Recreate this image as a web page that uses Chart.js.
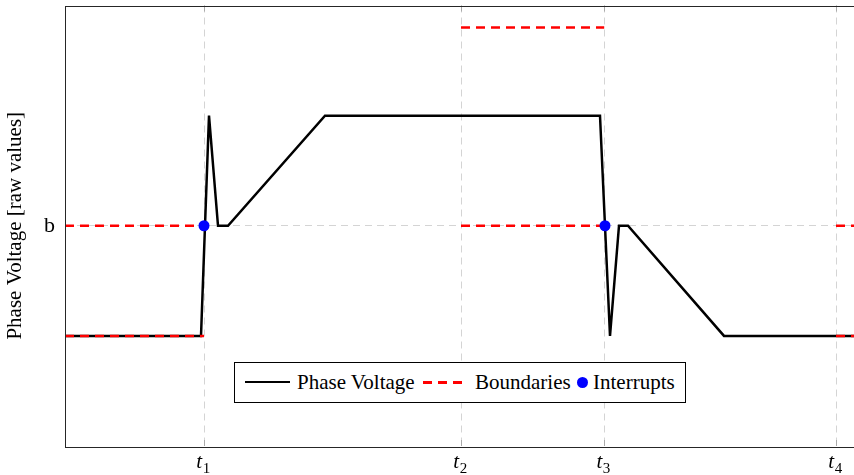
<!DOCTYPE html>
<html>
<head>
<meta charset="utf-8">
<script src="https://cdn.jsdelivr.net/npm/chart.js@4.4.0/dist/chart.umd.min.js"></script>
<style>
  html, body { margin: 0; padding: 0; background: #fff; overflow: hidden; width: 854px; height: 475px; }
  #wrap { position: relative; width: 880px; height: 475px; }
  #legend { position: absolute; left: 234px; top: 362px; width: 452px; height: 41px; box-sizing: border-box;
            border: 1px solid #000; background: #fff; font-family: 'Liberation Serif', serif; font-size: 21px; }
  #legend .txt { position: absolute; top: 50%; transform: translateY(-52%); white-space: nowrap; color: #000; }
  #legend .sym { position: absolute; }
</style>
</head>
<body>
<div id="wrap">
  <canvas id="c" width="880" height="475"></canvas>
  <div id="legend"></div>
</div>
<script>
// ---- data (x in time units, y in level units; b = 0) ----
const phaseX = [0, 17.0, 18.0, 19.125, 20.375, 32.5, 66.875, 68.125, 69.25, 70.375, 82.375, 100];
const phaseY = [-1, -1, 1, 0, 0, 1, 1, -1, 0, 0, -1, -1];

const boundStart = [0, 0, 49.5, 49.5, 96.375, 96.375];
const boundEnd   = [17.375, 17.375, 67.4, 67.4, 100, 100];
const boundLevel = [-1, 0, 0, 1.8, 0, -1];

const interruptX = [17.375, 67.5];
const interruptY = [0, 0];

const xTickValues = [17.375, 49.5, 67.4, 96.375];
const xTickBase = ['t', 't', 't', 't'];
const xTickSub  = ['1', '2', '3', '4'];
const yTickValues = [0];
const yTickLabels = ['b'];

const seriesNames = ['Phase Voltage', 'Boundaries', 'Interrupts'];

// ---- build datasets ----
const phaseData = phaseX.map((x, i) => ({x: x, y: phaseY[i]}));
const boundData = [];
boundStart.forEach((s, i) => {
  boundData.push({x: s, y: boundLevel[i]});
  boundData.push({x: boundEnd[i], y: boundLevel[i]});
  boundData.push({x: boundEnd[i], y: null});
});
const intData = interruptX.map((x, i) => ({x: x, y: interruptY[i]}));

const SERIF = "'Liberation Serif', 'Times New Roman', serif";

const framePlugin = {
  id: 'frame',
  beforeDatasetsDraw(chart) {
    const {ctx, chartArea: a, scales} = chart;
    ctx.save();
    ctx.strokeStyle = '#aaaaaa';
    ctx.lineWidth = 1;
    ctx.setLineDash([]);
    scales.x.ticks.forEach(t => {
      const px = Math.round(scales.x.getPixelForValue(t.value)) + 0.5;
      ctx.beginPath();
      ctx.moveTo(px, a.bottom); ctx.lineTo(px, a.bottom - 6);
      ctx.moveTo(px, a.top); ctx.lineTo(px, a.top + 6);
      ctx.stroke();
    });
    scales.y.ticks.forEach(t => {
      const py = Math.round(scales.y.getPixelForValue(t.value)) + 0.5;
      ctx.beginPath();
      ctx.moveTo(a.left, py); ctx.lineTo(a.left + 6, py);
      ctx.stroke();
    });
    ctx.restore();
  },
  afterDraw(chart) {
    const {ctx, chartArea: a, scales} = chart;
    ctx.save();
    ctx.strokeStyle = '#262626';
    ctx.lineWidth = 1;
    ctx.setLineDash([]);
    ctx.strokeRect(Math.round(a.left) + 0.5, Math.round(a.top) + 0.5,
                   Math.round(a.right - a.left), Math.round(a.bottom - a.top));
    // x tick labels: italic t with upright subscript
    ctx.fillStyle = '#000';
    ctx.textBaseline = 'alphabetic';
    ctx.textAlign = 'left';
    scales.x.ticks.forEach((t, i) => {
      const px = scales.x.getPixelForValue(t.value);
      ctx.font = 'italic 21px ' + SERIF;
      const w1 = ctx.measureText(xTickBase[i]).width;
      ctx.font = '15px ' + SERIF;
      const w2 = ctx.measureText(xTickSub[i]).width;
      const x0 = px - (w1 + w2) / 2 - 1;
      ctx.font = 'italic 21px ' + SERIF;
      ctx.fillText(xTickBase[i], x0, 468);
      ctx.font = '15px ' + SERIF;
      ctx.fillText(xTickSub[i], x0 + w1 + 0.5, 473);
    });
    ctx.restore();
  }
};

const chart = new Chart(document.getElementById('c'), {
  type: 'line',
  data: {
    datasets: [
      { label: seriesNames[2], data: intData, showLine: false, pointRadius: 5.5, pointHoverRadius: 5.5,
        pointBackgroundColor: '#0000ff', pointBorderWidth: 0, borderColor: '#0000ff', order: 1 },
      { label: seriesNames[1], data: boundData, borderColor: '#ff0000', borderWidth: 2.5, borderDash: [9, 6],
        pointRadius: 0, spanGaps: false, fill: false, tension: 0, order: 2 },
      { label: seriesNames[0], data: phaseData, borderColor: '#000000', borderWidth: 2.5,
        pointRadius: 0, fill: false, tension: 0, order: 3, borderJoinStyle: 'miter' }
    ]
  },
  options: {
    responsive: false,
    animation: false,
    events: [],
    layout: { padding: { left: 0, top: 5, right: 15, bottom: 0 } },
    plugins: { legend: { display: false }, tooltip: { enabled: false } },
    scales: {
      x: {
        type: 'linear', min: 0, max: 100,
        afterBuildTicks: s => { s.ticks = xTickValues.map(v => ({value: v})); },
        afterFit: s => { s.height = 29; s.paddingLeft = 0; s.paddingRight = 0; },
        ticks: { display: false, autoSkip: false },
        grid: { color: '#d4d4d4', lineWidth: 1, drawTicks: false },
        border: { display: false, dash: [7, 5] }
      },
      y: {
        type: 'linear', min: -2, max: 2,
        afterBuildTicks: s => { s.ticks = yTickValues.map(v => ({value: v})); },
        afterFit: s => { s.width = 65; s.paddingTop = 0; s.paddingBottom = 0; },
        ticks: {
          callback: (v, i) => yTickLabels[i],
          font: { family: SERIF, size: 22 },
          color: '#000', padding: 10
        },
        title: {
          display: true, text: 'Phase Voltage [raw values]',
          font: { family: SERIF, size: 21 }, color: '#000', padding: { top: 3, bottom: 0 }
        },
        grid: { color: '#d4d4d4', lineWidth: 1, drawTicks: false },
        border: { display: false, dash: [7, 5] }
      }
    }
  },
  plugins: [framePlugin]
});

// ---- HTML legend (inside the plot area, as in the reference) ----
const lg = document.getElementById('legend');
const ds = chart.data.datasets;
const byName = n => ds.find(d => d.label === n);
function add(html) { lg.insertAdjacentHTML('beforeend', html); }
add('<div class="sym" style="left:10px;top:18px;width:45px;height:0;border-top:2.5px solid ' + byName(seriesNames[0]).borderColor + '"></div>');
add('<div class="txt" style="left:62px">' + seriesNames[0] + '</div>');
add('<div class="sym" style="left:188px;top:18px;width:42px;height:2.5px;background:repeating-linear-gradient(90deg,' +
    byName(seriesNames[1]).borderColor + ' 0 9px, transparent 9px 15px)"></div>');
add('<div class="txt" style="left:240px">' + seriesNames[1] + '</div>');
add('<div class="sym" style="left:342px;top:14px;width:11px;height:11px;border-radius:50%;background:' +
    byName(seriesNames[2]).pointBackgroundColor + '"></div>');
add('<div class="txt" style="left:358px">' + seriesNames[2] + '</div>');
</script>
</body>
</html>
